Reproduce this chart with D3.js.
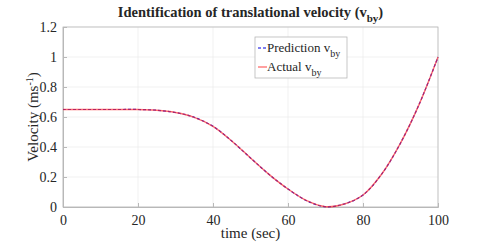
<!DOCTYPE html>
<html>
<head>
<meta charset="utf-8">
<script src="https://cdn.jsdelivr.net/npm/d3@7"></script>
<style>
body { margin: 0; background: #fff; }
text { font-family: "Liberation Serif", "Times New Roman", serif; fill: #262626; }
</style>
</head>
<body>
<div id="canvas"></div>
<script>
const width = 485;
const height = 243;

// values
const time = [0, 5, 10, 15, 20, 25, 30, 35, 40, 45, 50, 55, 60, 65, 70, 75, 80, 85, 90, 95, 100];
const actual = [0.65, 0.65, 0.65, 0.65, 0.65, 0.645, 0.63, 0.598, 0.538, 0.44, 0.327, 0.216, 0.12, 0.042, 0.002, 0.02, 0.08, 0.22, 0.426, 0.686, 1.0];
const prediction = actual.slice();
const xTicks = [0, 20, 40, 60, 80, 100];
const yTicks = [0, 0.2, 0.4, 0.6, 0.8, 1, 1.2];

const margin = {left: 63, right: 47, top: 27, bottom: 36};
const w = width - margin.left - margin.right;
const h = height - margin.top - margin.bottom;

const svg = d3.select('#canvas').append('svg')
  .attr('width', width)
  .attr('height', height);

const xScale = d3.scaleLinear().domain([0, 100]).range([0, w]);
const yScale = d3.scaleLinear().domain([0, 1.2]).range([h, 0]);

const g = svg.append('g')
  .attr('transform', `translate(${margin.left},${margin.top})`);

// grid
g.append('g').selectAll('line').data(xTicks).join('line')
  .attr('x1', d => xScale(d)).attr('x2', d => xScale(d))
  .attr('y1', 0).attr('y2', h)
  .attr('stroke', '#ebebeb').attr('stroke-width', 0.7);
g.append('g').selectAll('line').data(yTicks).join('line')
  .attr('x1', 0).attr('x2', w)
  .attr('y1', d => yScale(d)).attr('y2', d => yScale(d))
  .attr('stroke', '#ebebeb').attr('stroke-width', 0.7);

// box
g.append('rect').attr('width', w).attr('height', h)
  .attr('fill', 'none').attr('stroke', '#b8b8b8').attr('stroke-width', 0.8);

const xAxis = d3.axisBottom(xScale).tickValues(xTicks).tickSize(-4).tickPadding(8).tickFormat(d3.format('d'));
const yAxis = d3.axisLeft(yScale).tickValues(yTicks).tickSize(-4).tickPadding(6).tickFormat(d => d);

const gx = g.append('g').attr('transform', `translate(0,${h})`).call(xAxis);
const gy = g.append('g').call(yAxis);
[gx, gy].forEach(a => {
  a.attr('font-family', '"Liberation Serif", serif');
  a.select('.domain').attr('stroke', '#b8b8b8');
  a.selectAll('.tick line').attr('stroke', '#b8b8b8');
  a.selectAll('.tick text').style('font-size', '14px').attr('fill', '#262626');
});
gx.selectAll('.tick text').attr('dy', '0.7em');

const line = d3.line()
  .x((d, i) => xScale(time[i]))
  .y(d => yScale(d))
  .curve(d3.curveCatmullRom.alpha(0.5));

g.append('path').attr('d', line(prediction))
  .attr('fill', 'none').attr('stroke', '#0000e0').attr('stroke-width', 1.2)
  .attr('stroke-dasharray', '3,2');
g.append('path').attr('d', line(actual))
  .attr('fill', 'none').attr('stroke', '#ff3030').attr('stroke-opacity', 0.7).attr('stroke-width', 1.4);

// title
const title = svg.append('text')
  .attr('x', margin.left + w / 2).attr('y', 17)
  .attr('text-anchor', 'middle')
  .style('font-size', '14.5px').style('font-weight', 'bold');
title.append('tspan').text('Identification of translational velocity (v');
title.append('tspan').attr('dy', 5).style('font-size', '11px').text('by');
title.append('tspan').attr('dy', -5).text(')');

// axis labels
svg.append('text')
  .attr('x', margin.left + w / 2).attr('y', 238)
  .attr('text-anchor', 'middle')
  .style('font-size', '15px')
  .text('time (sec)');

const ylab = svg.append('text')
  .attr('transform', `translate(38,${margin.top + h / 2}) rotate(-90)`)
  .attr('text-anchor', 'middle')
  .style('font-size', '15px');
ylab.append('tspan').text('Velocity (ms');
ylab.append('tspan').attr('dy', -5).style('font-size', '10px').text('-1');
ylab.append('tspan').attr('dy', 5).text(')');

// legend
const leg = svg.append('g').attr('transform', 'translate(255,37)');
leg.append('rect').attr('width', 92).attr('height', 41)
  .attr('fill', '#fff').attr('stroke', '#b8b8b8').attr('stroke-width', 0.8);
const items = [
  {name: 'Prediction v', color: '#0000e0', dash: '3,2'},
  {name: 'Actual v', color: '#ff6060', dash: null}
];
items.forEach((it, i) => {
  const y = 11 + i * 19;
  leg.append('line').attr('x1', 3).attr('x2', 12).attr('y1', y).attr('y2', y)
    .attr('stroke', it.color).attr('stroke-width', 1.2)
    .attr('stroke-dasharray', it.dash);
  const t = leg.append('text').attr('x', 12).attr('y', y + 4).style('font-size', '13px');
  t.append('tspan').text(it.name);
  t.append('tspan').attr('dy', 5).style('font-size', '10px').text('by');
});
</script>
</body>
</html>
